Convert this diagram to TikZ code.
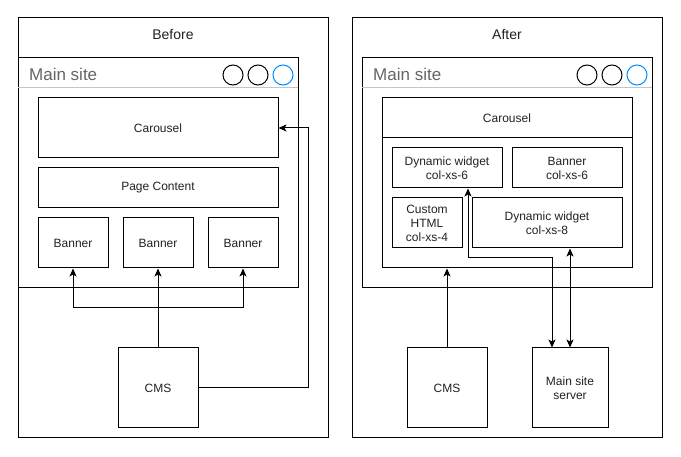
\documentclass[tikz,border=0pt]{standalone}
\usepackage{fontspec}
\setmainfont{Liberation Sans}
\usetikzlibrary{arrows.meta}
\definecolor{mtext}{HTML}{666666}
\definecolor{sepgray}{HTML}{C4C4C4}
\definecolor{cblue}{HTML}{008CFF}
\definecolor{ltext}{HTML}{222222}
\tikzset{
  box/.style={draw=black, line width=1pt, fill=white, inner sep=0pt, align=center,
    text=ltext, font=\fontsize{12}{14}\selectfont},
  panel/.style={draw=black, line width=1pt, inner sep=0pt},
  title/.style={inner sep=0pt, text=ltext, font=\fontsize{14}{16}\selectfont},
  wintitle/.style={inner sep=0pt, anchor=west, text=mtext, font=\fontsize{17}{19}\selectfont},
  sep/.style={draw=sepgray, line width=1pt},
  dot/.style={circle, draw=black, line width=1pt, minimum size=20pt, inner sep=0pt},
  bdot/.style={circle, draw=cblue, line width=1pt, minimum size=20pt, inner sep=0pt},
  arr/.style={draw=black, line width=1pt, -{Stealth[length=8pt,width=7pt,inset=2pt]}},
  darr/.style={draw=black, line width=1pt, {Stealth[length=8pt,width=7pt,inset=2pt]}-{Stealth[length=8pt,width=7pt,inset=2pt]}}
}
\begin{document}
\begin{tikzpicture}[x=1pt,y=-1pt]
\useasboundingbox[fill=white] (0,0) rectangle (681,457);

% ---------- Before ----------
\node[panel, minimum width=310pt, minimum height=420pt] (panelL) at (173,228) {};
\node[title] (titleL) at (173,35) {Before};
\node[panel, minimum width=280pt, minimum height=230pt] (winL) at (158,173) {};
\coordinate (sepLa) at (18,88);
\coordinate (sepLb) at (298,88);
\draw[sep] (sepLa) -- (sepLb);
\node[wintitle] (mainL) at (29,74) {Main site};
\node[dot] (cL1) at (233,75) {};
\node[dot] (cL2) at (258,75) {};
\node[bdot] (cL3) at (283,75) {};

\node[box, minimum width=240pt, minimum height=60pt] (carL) at (158,128) {Carousel};
\node[box, minimum width=240pt, minimum height=40pt] (pageL) at (158,188) {Page Content};
\node[box, minimum width=70pt, minimum height=50pt] (bn1) at (73,243) {Banner};
\node[box, minimum width=70pt, minimum height=50pt] (bn2) at (158,243) {Banner};
\node[box, minimum width=70pt, minimum height=50pt] (bn3) at (243,243) {Banner};
\node[box, minimum width=80pt, minimum height=80pt] (cmsL) at (158,388) {CMS};

\coordinate (jL) at (158,308);
\coordinate (cornL) at (308,128);
\draw[arr] (cmsL.north) -- (bn2.south);
\draw[arr] (jL) -| (bn1.south);
\draw[arr] (jL) -| (bn3.south);
\draw[arr] (cmsL.east) -| (cornL) -- (carL.east);

% ---------- After ----------
\node[panel, minimum width=310pt, minimum height=420pt] (panelR) at (507,228) {};
\node[title] (titleR) at (507,35) {After};
\node[panel, minimum width=290pt, minimum height=230pt] (winR) at (507,173) {};
\coordinate (sepRa) at (362,88);
\coordinate (sepRb) at (652,88);
\draw[sep] (sepRa) -- (sepRb);
\node[wintitle] (mainR) at (373,74) {Main site};
\node[dot] (cR1) at (587,75) {};
\node[dot] (cR2) at (612,75) {};
\node[bdot] (cR3) at (637,75) {};

\node[box, minimum width=250pt, minimum height=170pt] (cont) at (507,183) {};
\node[box, minimum width=250pt, minimum height=40pt] (carR) at (507,118) {Carousel};
\node[box, minimum width=110pt, minimum height=40pt] (dw6) at (447,168) {Dynamic widget\\col-xs-6};
\node[box, minimum width=110pt, minimum height=40pt] (bnR) at (567,168) {Banner\\col-xs-6};
\node[box, minimum width=70pt, minimum height=50pt] (ch4) at (427,223) {Custom\\HTML\\col-xs-4};
\node[box, minimum width=150pt, minimum height=50pt] (dw8) at (547,223) {Dynamic widget\\col-xs-8};
\node[box, minimum width=80pt, minimum height=80pt] (cmsR) at (447,388) {CMS};
\node[box, minimum width=76pt, minimum height=80pt] (srv) at (570,388) {Main site\\server};

\coordinate (kR) at (468,258);
\draw[arr] (cmsR.north) -- (cmsR.north |- cont.south);
\draw[darr] ([xshift=-18pt]srv.north) |- (kR) -- (kR |- dw6.south);
\draw[darr] (srv.north) -- (srv.north |- dw8.south);
\end{tikzpicture}
\end{document}
